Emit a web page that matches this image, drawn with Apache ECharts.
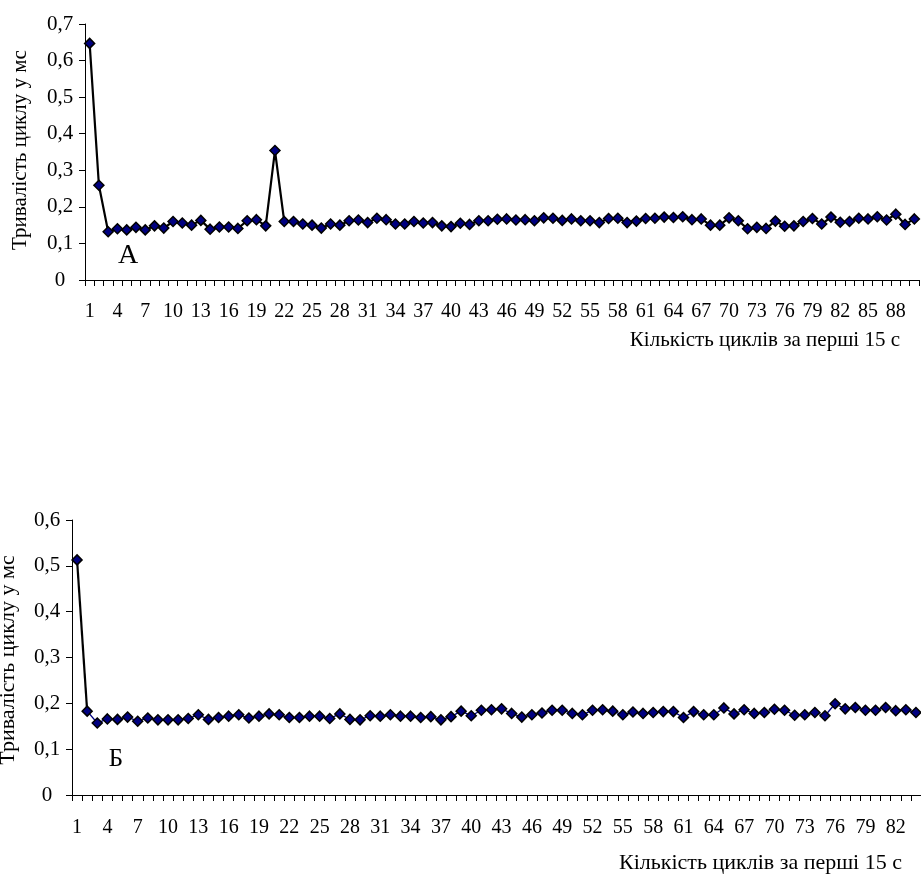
<!DOCTYPE html>
<html>
<head>
<meta charset="utf-8">
<script src="https://cdn.jsdelivr.net/npm/echarts@6/dist/echarts.min.js"></script>
<style>
html,body{margin:0;padding:0;background:#fff;overflow:hidden;}
#chart{width:921px;height:875px;}
</style>
</head>
<body>
<div id="chart"></div>
<script>
// Chart A (top): cycle duration, ms
var valuesA = [0.647,0.259,0.132,0.140,0.137,0.144,0.137,0.148,0.142,0.160,
  0.156,0.150,0.163,0.139,0.145,0.145,0.141,0.162,0.165,0.148,
  0.354,0.160,0.160,0.153,0.150,0.142,0.153,0.150,0.162,0.164,
  0.157,0.169,0.165,0.153,0.153,0.160,0.156,0.157,0.148,0.146,
  0.155,0.152,0.162,0.162,0.166,0.167,0.164,0.165,0.162,0.170,
  0.169,0.163,0.167,0.162,0.162,0.157,0.168,0.169,0.157,0.161,
  0.168,0.169,0.172,0.171,0.173,0.165,0.167,0.150,0.150,0.170,
  0.162,0.140,0.144,0.141,0.161,0.147,0.148,0.160,0.168,0.153,
  0.172,0.158,0.160,0.169,0.167,0.173,0.164,0.180,0.152,0.167];
// Chart B (bottom)
var valuesB = [0.513,0.183,0.157,0.166,0.165,0.170,0.161,0.168,0.164,0.164,
  0.164,0.167,0.175,0.165,0.169,0.172,0.175,0.168,0.172,0.177,
  0.175,0.169,0.169,0.172,0.172,0.167,0.177,0.165,0.164,0.173,
  0.172,0.175,0.172,0.172,0.169,0.171,0.164,0.171,0.183,0.173,
  0.185,0.186,0.188,0.178,0.170,0.175,0.179,0.185,0.185,0.178,
  0.175,0.185,0.186,0.183,0.175,0.181,0.178,0.180,0.182,0.182,
  0.169,0.182,0.175,0.175,0.190,0.177,0.186,0.178,0.180,0.187,
  0.185,0.174,0.175,0.180,0.173,0.199,0.188,0.191,0.185,0.185,
  0.191,0.184,0.186,0.180];
var categoriesA = valuesA.map(function(v,i){return String(i+1);});
var categoriesB = valuesB.map(function(v,i){return String(i+1);});
var yTitle = 'Тривалість циклу у мс';
var xTitle = 'Кількість циклів за перші 15 с';
var labelA = 'А';
var labelB = 'Б';

var FONT = 'Liberation Serif';
function yFmt(v){ return v === 0 ? '0' : v.toFixed(1).replace('.', ','); }

function xAxisCfg(idx, cats, margin){
  return {
    type:'category', gridIndex:idx, data:cats, boundaryGap:true,
    axisLine:{lineStyle:{color:'#000',width:1}},
    axisTick:{show:true, interval:0, length:6, inside:false, lineStyle:{color:'#000'}},
    axisLabel:{interval:2, color:'#000', fontFamily:FONT, fontSize:20, margin:margin},
    splitLine:{show:false}
  };
}
function yAxisCfg(idx, max){
  return {
    type:'value', gridIndex:idx, min:0, max:max, interval:0.1,
    axisLine:{show:true, lineStyle:{color:'#000',width:1}},
    axisTick:{show:true, length:6, lineStyle:{color:'#000'}},
    axisLabel:{color:'#000', fontFamily:FONT, fontSize:21, margin:25, align:'center', formatter:yFmt},
    splitLine:{show:false}
  };
}
var markerStyle = {color:'#000080', borderColor:'#000', borderWidth:1.5};

var chart = echarts.init(document.getElementById('chart'), null, {renderer:'canvas'});
chart.setOption({
  animation:false,
  backgroundColor:'#fff',
  grid:[
    {left:85, top:24, width:834, height:256},
    {left:72, top:520, width:855, height:275}
  ],
  xAxis:[xAxisCfg(0, categoriesA, 22), xAxisCfg(1, categoriesB, 23)],
  yAxis:[yAxisCfg(0, 0.7), yAxisCfg(1, 0.6)],
  series:[
    {type:'line', xAxisIndex:0, yAxisIndex:0, data:valuesA,
     symbol:'diamond', symbolSize:10, showAllSymbol:true,
     lineStyle:{color:'#000', width:2.2}, itemStyle:markerStyle, z:3},
    {type:'line', xAxisIndex:1, yAxisIndex:1,
     data:valuesB.map(function(v,i){return i < 2 ? v : '-';}),
     symbol:'none', lineStyle:{color:'#000', width:2.2}, z:2},
    {type:'line', xAxisIndex:1, yAxisIndex:1,
     data:valuesB.map(function(v,i){return i >= 1 ? v : '-';}),
     symbol:'none', lineStyle:{color:'#000080', width:1.3}, z:2},
    {type:'line', xAxisIndex:1, yAxisIndex:1, data:valuesB,
     symbol:'diamond', symbolSize:10, showAllSymbol:true,
     lineStyle:{width:0, opacity:0}, itemStyle:markerStyle, z:3}
  ],
  graphic:[
    {type:'text', x:20, y:150, rotation:Math.PI/2,
     style:{text:yTitle, font:'21px "Liberation Serif"', fill:'#000', align:'center', verticalAlign:'middle'}},
    {type:'text', x:8, y:660, rotation:Math.PI/2,
     style:{text:yTitle, font:'22px "Liberation Serif"', fill:'#000', align:'center', verticalAlign:'middle'}},
    {type:'text', x:900, y:340,
     style:{text:xTitle, font:'21px "Liberation Serif"', fill:'#000', align:'right', verticalAlign:'middle'}},
    {type:'text', x:902, y:863,
     style:{text:xTitle, font:'22px "Liberation Serif"', fill:'#000', align:'right', verticalAlign:'middle'}},
    {type:'text', x:128, y:256,
     style:{text:labelA, font:'28px "Liberation Serif"', fill:'#000', align:'center', verticalAlign:'middle'}},
    {type:'text', x:116, y:759,
     style:{text:labelB, font:'25px "Liberation Serif"', fill:'#000', align:'center', verticalAlign:'middle'}}
  ]
});
</script>
</body>
</html>
